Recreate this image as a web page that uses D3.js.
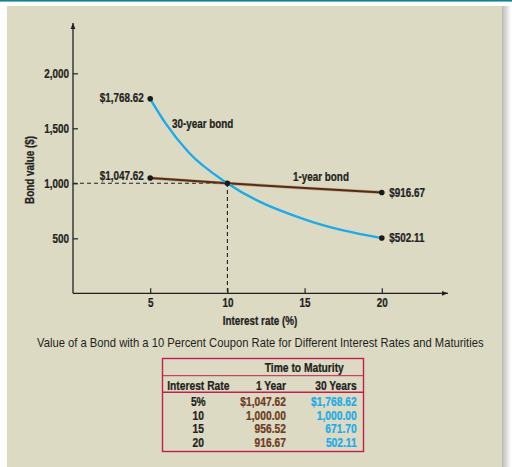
<!DOCTYPE html>
<html>
<head>
<meta charset="utf-8">
<script src="https://cdn.jsdelivr.net/npm/d3@7/dist/d3.min.js"></script>
<style>
  html, body { margin: 0; padding: 0; background: #fff; }
  svg { display: block; }
  text { font-family: "Liberation Sans", Arial, sans-serif; }
</style>
</head>
<body>
<svg id="chart" width="512" height="467"></svg>
<script>
// ---- data ----
// table values
const rates = [5, 10, 15, 20];
const rateLabels = ["5%", "10", "15", "20"];
const oneYear = [1047.62, 1000.00, 956.52, 916.67];
const thirtyYear = [1768.62, 1000.00, 671.70, 502.11];
// points of the plotted curves (table values plus values)
const curve30Rates = [5, 6, 7.5, 10, 15, 20];
const curve30Values = [1768.62, 1545, 1280, 1000.00, 671.70, 502.11];
const curve1Rates = [5, 10, 15, 20];
const curve1Values = [1047.62, 1000.00, 956.52, 916.67];
const xTicks = [5, 10, 15, 20];
const yTicks = [500, 1000, 1500, 2000];
const tableHeaders = ["Interest Rate", "1 Year", "30 Years"];

const BLUE = "#1aabe8", BROWN = "#5a2b14", TXT_BROWN = "#6e3b22", INK = "#231f20", CRIMSON = "#c2204c";
const FS = 12.5;   // label font size
const SX = 0.79;   // horizontal condensing of the bold face

const svg = d3.select("#chart");
const defs = svg.append("defs");
const grad = defs.append("linearGradient").attr("id", "shadow").attr("x1", 0).attr("x2", 1);
grad.append("stop").attr("offset", 0).attr("stop-color", "#b9b9b9");
grad.append("stop").attr("offset", 1).attr("stop-color", "#ffffff");
defs.append("marker").attr("id", "arrow").attr("viewBox", "0 0 10 10")
  .attr("refX", 10).attr("refY", 5).attr("markerWidth", 6).attr("markerHeight", 6)
  .attr("markerUnits", "userSpaceOnUse").attr("orient", "auto")
  .append("path").attr("d", "M0,1 L10,5 L0,9 Z").attr("fill", INK);

// frame
svg.append("rect").attr("x", 0).attr("y", 0).attr("width", 512).attr("height", 1.6).attr("fill", "#16809c");
svg.append("rect").attr("x", 502).attr("y", 6).attr("width", 9).attr("height", 461).attr("fill", "url(#shadow)");
svg.append("rect").attr("x", 7).attr("y", 6).attr("width", 495).attr("height", 461).attr("fill", "#dddac4");

// helper: condensed bold text at a point
function ctext(parent, tx, ty, t, anchor, opts = {}) {
  const sx = opts.sx || SX;
  const color = opts.color || INK;
  return parent.append("text")
    .attr("transform", `translate(${tx},${ty})` + (opts.rot ? ` rotate(${opts.rot})` : "") + ` scale(${sx},1)`)
    .attr("dy", opts.dy || "0.35em")
    .attr("text-anchor", anchor)
    .attr("font-size", opts.size || FS)
    .attr("font-weight", opts.weight || "bold")
    .attr("fill", color)
    .attr("stroke", color).attr("stroke-width", opts.sw == null ? 0.25 : opts.sw)
    .text(t);
}

// scales
const x = d3.scaleLinear().domain([0, 20]).range([73, 381.8]);
const y = d3.scaleLinear().domain([0, 2000]).range([293.3, 73.3]);

// axes
const yAxis = d3.axisLeft(y).tickValues(yTicks).tickSize(-5).tickPadding(4).tickFormat(d3.format(","));
const gy = svg.append("g").attr("transform", `translate(${x(0)},0)`).call(yAxis);
const xAxis = d3.axisBottom(x).tickValues(xTicks).tickSize(-5).tickPadding(5).tickFormat(d3.format("d"));
const gx = svg.append("g").attr("transform", `translate(0,${y(0)})`).call(xAxis);
[gx, gy].forEach(g => {
  g.select(".domain").remove();
  g.selectAll(".tick line").attr("stroke", INK).attr("stroke-width", 1.2);
  g.selectAll(".tick text").attr("font-size", FS).attr("font-weight", "bold").attr("fill", INK)
    .attr("stroke", INK).attr("stroke-width", 0.25)
    .style("font-family", '"Liberation Sans", Arial, sans-serif')
    .each(function () {
      const t = d3.select(this);
      const xx = +t.attr("x") || 0;
      t.attr("x", xx / SX).attr("transform", `scale(${SX},1)`);
    });
});
svg.append("line").attr("x1", x(0)).attr("y1", y(0)).attr("x2", x(0)).attr("y2", 23)
  .attr("stroke", INK).attr("stroke-width", 1.3).attr("marker-end", "url(#arrow)");
svg.append("line").attr("x1", x(0)).attr("y1", y(0)).attr("x2", 448).attr("y2", y(0))
  .attr("stroke", INK).attr("stroke-width", 1.3).attr("marker-end", "url(#arrow)");

// axis titles
ctext(svg, 30, 170, "Bond value ($)", "middle", { rot: -90 });
ctext(svg, 260, 320.7, "Interest rate (%)", "middle");

// dashed reference lines at par
svg.append("path")
  .attr("d", `M${x(0)},${y(1000)} H${x(10)} V${y(0)}`)
  .attr("fill", "none").attr("stroke", INK).attr("stroke-width", 1.1).attr("stroke-dasharray", "4,3");

// curves
const line = d3.line().x(d => x(d[0])).y(d => y(d[1])).curve(d3.curveMonotoneX);
const s30 = curve30Rates.map((r, i) => [r, curve30Values[i]]);
const s1 = curve1Rates.map((r, i) => [r, curve1Values[i]]);
svg.append("path").datum(s1).attr("d", line).attr("fill", "none").attr("stroke", "#a88a70").attr("stroke-width", 3.2).attr("opacity", 0.6);
svg.append("path").datum(s1).attr("d", line).attr("fill", "none").attr("stroke", BROWN).attr("stroke-width", 2);
svg.append("path").datum(s30).attr("d", line).attr("fill", "none").attr("stroke", BLUE).attr("stroke-width", 2.4);

// dots
const dots = [[rates[0], thirtyYear[0]], [rates[0], oneYear[0]], [rates[1], oneYear[1]], [rates[3], oneYear[3]], [rates[3], thirtyYear[3]]];
svg.selectAll("circle.dot").data(dots).enter().append("circle").attr("class", "dot")
  .attr("cx", d => x(d[0])).attr("cy", d => y(d[1])).attr("r", 2.8).attr("fill", "#1a1a1a");

// value labels
const money = d => "$" + d3.format(",.2f")(d);
ctext(svg, x(rates[0]) - 6.5, y(thirtyYear[0]) - 1.5, money(thirtyYear[0]), "end");
ctext(svg, x(rates[0]) - 6.5, y(oneYear[0]) - 2, money(oneYear[0]), "end");
ctext(svg, x(rates[3]) + 7.5, y(oneYear[3]), money(oneYear[3]), "start");
ctext(svg, x(rates[3]) + 7.5, y(thirtyYear[3]), money(thirtyYear[3]), "start");
ctext(svg, 172, 123.5, "30-year bond", "start");
ctext(svg, 293, 176.5, "1-year bond", "start");

// caption (scaled to the reference width)
const cap = svg.append("text").attr("dy", "0.35em").attr("text-anchor", "start")
  .attr("font-size", 12.5).attr("fill", INK)
  .text("Value of a Bond with a 10 Percent Coupon Rate for Different Interest Rates and Maturities");
const capLen = cap.node().getComputedTextLength();
cap.attr("transform", `translate(37,343) scale(${447 / capLen},1)`);

// table
const tb = svg.append("g");
tb.append("rect").attr("x", 162.5).attr("y", 358.5).attr("width", 201).attr("height", 93)
  .attr("fill", "none").attr("stroke", CRIMSON).attr("stroke-width", 1.4);
tb.append("line").attr("x1", 162.5).attr("x2", 363.5).attr("y1", 375.7).attr("y2", 375.7).attr("stroke", CRIMSON).attr("stroke-width", 1);
tb.append("line").attr("x1", 162.5).attr("x2", 363.5).attr("y1", 392.3).attr("y2", 392.3).attr("stroke", CRIMSON).attr("stroke-width", 1.6);
const tt = (tx, ty, t, anchor, color) => ctext(tb, tx, ty, t, anchor, { size: 13, color: color || INK, sx: 0.79 });
tt(304.3, 367.3, "Time to Maturity", "middle");
const colX = [198.3, 286, 356.7];
tt(colX[0], 385, tableHeaders[0], "middle");
tt(colX[1], 385, tableHeaders[1], "end");
tt(colX[2], 385, tableHeaders[2], "end");
const rowY = [401.7, 415, 428.7, 442.3];
rateLabels.forEach((r, i) => {
  tt(colX[0], rowY[i], r, "middle");
  const f = i === 0 ? money : d3.format(",.2f");
  tt(colX[1], rowY[i], f(oneYear[i]), "end", TXT_BROWN);
  tt(colX[2], rowY[i], f(thirtyYear[i]), "end", BLUE);
});
</script>
</body>
</html>
